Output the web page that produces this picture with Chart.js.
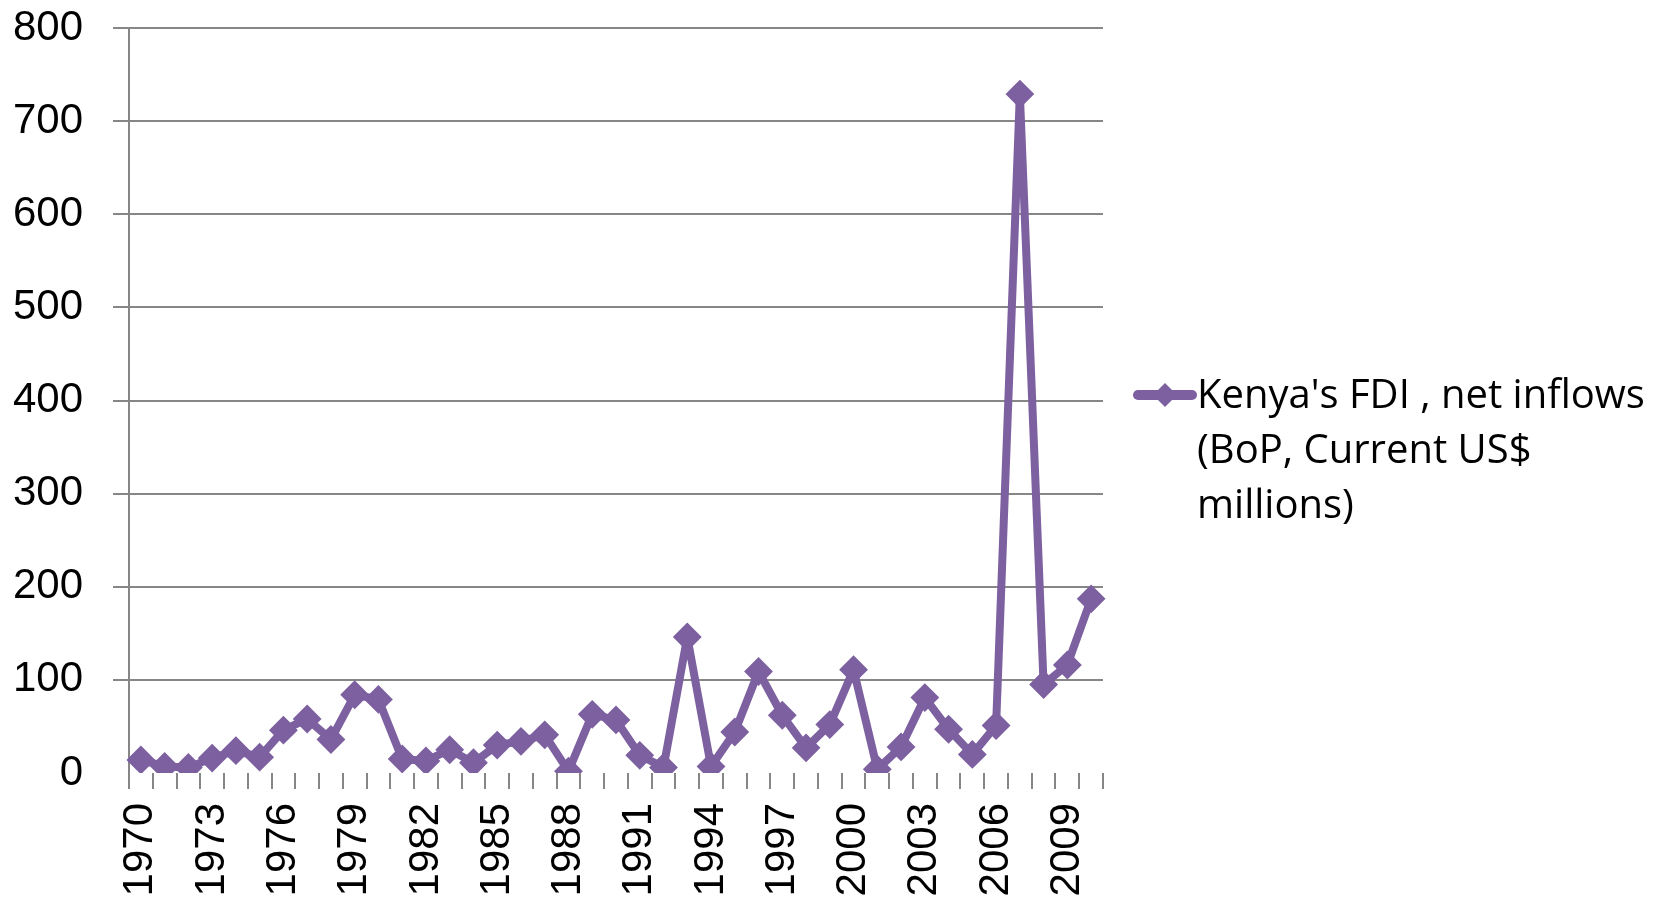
<!DOCTYPE html>
<html>
<head>
<meta charset="utf-8">
<script src="https://cdn.jsdelivr.net/npm/chart.js@4.4.1/dist/chart.umd.min.js"></script>
<style>
  html, body { margin: 0; padding: 0; background: #fff; }
  #wrap { width: 1673px; height: 898px; }
</style>
</head>
<body>
<div id="wrap"><canvas id="fdi" width="1673" height="898"></canvas></div>
<script>
const years = ['1970','1971','1972','1973','1974','1975','1976','1977','1978','1979',
  '1980','1981','1982','1983','1984','1985','1986','1987','1988','1989',
  '1990','1991','1992','1993','1994','1995','1996','1997','1998','1999',
  '2000','2001','2002','2003','2004','2005','2006','2007','2008','2009','2010'];

const fdi_inflows = [14,7,6,16,24,17,46,58,36,84,
  79,15,13,25,11,30,34,41,2,63,
  57,19,6,146,7,44,109,62,27,52,
  111,4,28,81,47,20,51,729,95,116,187];

const y_ticks = [0,100,200,300,400,500,600,700,800];

const serie_label = ["Kenya's FDI , net inflows", "(BoP, Current US$", "millions)"];

const morado = '#7d60a0';
const gris = '#868686';

// leyenda a la derecha, en varias lineas
const leyenda = {
  id: 'leyenda',
  afterDraw(chart) {
    const ctx = chart.ctx;
    ctx.save();
    ctx.strokeStyle = morado;
    ctx.lineWidth = 10;
    ctx.lineCap = 'round';
    ctx.beginPath();
    ctx.moveTo(1138, 395);
    ctx.lineTo(1192, 395);
    ctx.stroke();
    ctx.fillStyle = morado;
    ctx.beginPath();
    ctx.moveTo(1165, 383);
    ctx.lineTo(1177, 395);
    ctx.lineTo(1165, 407);
    ctx.lineTo(1153, 395);
    ctx.closePath();
    ctx.fill();
    ctx.fillStyle = '#000';
    ctx.font = '40px "Open Sans"';
    ctx.textBaseline = 'alphabetic';
    serie_label.forEach((t, i) => ctx.fillText(t, 1197, 408 + i * 55));
    ctx.restore();
  }
};

const fdi = document.getElementById("fdi").getContext("2d");
const graf_fdi = new Chart(fdi, {
type: 'line',
data: {
labels: years,
datasets: [{
    label: serie_label.join(' '),
    data: fdi_inflows,
    borderColor: morado,
    backgroundColor: morado,
    borderWidth: 8,
    borderJoinStyle: 'round',
    tension: 0,
    pointStyle: 'rectRot',
    pointRadius: 13,
    pointBorderWidth: 2,
    pointBackgroundColor: morado,
    pointBorderColor: morado
}]
},
options: {
responsive: false,
animation: false,
devicePixelRatio: 1,
layout: { padding: { top: 28, right: 570, left: 0, bottom: 0 } },
plugins: {
    legend: { display: false },
    tooltip: { enabled: false }
},
scales: {
    x: {
        offset: true,
        border: { display: false },
        grid: {
            offset: true,
            drawOnChartArea: false,
            drawTicks: true,
            tickLength: 16,
            color: gris,
            lineWidth: 2
        },
        ticks: {
            autoSkip: false,
            maxRotation: 90,
            minRotation: 90,
            padding: 14,
            color: '#000',
            font: { family: 'Liberation Sans', size: 42 },
            callback: (v, i) => (i % 3 === 0 ? years[i] : '')
        },
        afterFit: (s) => { s.height = 125; }
    },
    y: {
        min: 0,
        max: 800,
        afterBuildTicks: (s) => { s.ticks = y_ticks.map(v => ({ value: v })); },
        border: { display: true, color: gris, width: 2 },
        grid: {
            color: (c) => (c.tick && c.tick.value === 0 ? 'rgba(0,0,0,0)' : gris),
            lineWidth: 2,
            tickLength: 16
        },
        ticks: {
            padding: 30,
            color: '#000',
            font: { family: 'Liberation Sans', size: 42 }
        },
        afterFit: (s) => { s.width = 129; s.paddingTop = 0; s.paddingBottom = 0; }
    }
}
},
plugins: [leyenda]
}
);
</script>
</body>
</html>
